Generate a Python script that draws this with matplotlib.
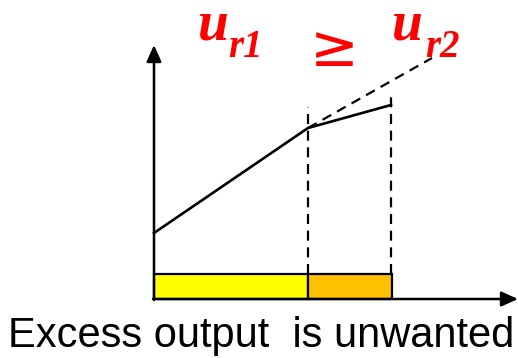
import numpy as np
import matplotlib.pyplot as plt

# output (x) / utility (y) in picture units, origin at the axes corner
curve_x = [0, 154, 237]
curve_y = [66, 171, 194]
ext_x = [154, 278]
ext_y = [171, 241]
bar_left = [0, 154]
bar_width = [154, 84]
bar_height = 25
bar_colors = ["#FFFF00", "#FFC000"]
caption = "Excess output  is unwanted"

fig = plt.figure(figsize=(5.18, 3.58), dpi=100)
ax = fig.add_axes([0, 0, 1, 1])
ax.set_xlim(-154, 364)
ax.set_ylim(-59, 299)
ax.axis("off")

# bars along the output axis
ax.bar(bar_left, bar_height, width=bar_width, align="edge",
       color=bar_colors, edgecolor="black", linewidth=1.6, zorder=2)

# utility curve and dashed extension
ax.plot(curve_x, curve_y, color="black", lw=1.9, zorder=3)
ax.plot(ext_x, ext_y, color="black", lw=1.6, ls=(0, (4.5, 3)), zorder=3)
for xv, yv in zip(curve_x[1:], [192, 202]):
    ax.plot([xv, xv], [bar_height, yv], color="black", lw=1.6,
            ls=(0, (4.5, 3)), zorder=1)

# axes with arrows
ax.annotate("", xy=(0, 254), xytext=(0, -1),
            arrowprops=dict(arrowstyle="-|>,head_width=0.45,head_length=1.0",
                            color="black", lw=1.8, shrinkA=0, shrinkB=0))
ax.annotate("", xy=(364, 0), xytext=(-1, 0),
            arrowprops=dict(arrowstyle="-|>,head_width=0.45,head_length=1.0",
                            color="black", lw=1.8, shrinkA=0, shrinkB=0))

# labels
big = dict(family="Liberation Serif", style="italic", weight="bold",
           color="red")
ax.text(44, 259, "u", fontsize=40, ha="left", va="baseline", **big)
ax.text(74, 242, "r1", fontsize=28, ha="left", va="baseline", **big)
ax.text(238, 259, "u", fontsize=40, ha="left", va="baseline", **big)
ax.text(271, 242, "r2", fontsize=28, ha="left", va="baseline", **big)
ax.text(180, 250, "\u2265", fontsize=42, ha="center", va="center",
        color="red", family="DejaVu Sans")

ax.text(107, -48, caption, fontsize=30, ha="center", va="baseline",
        family="Liberation Sans", color="black")

fig.savefig("out.png", dpi=100)
